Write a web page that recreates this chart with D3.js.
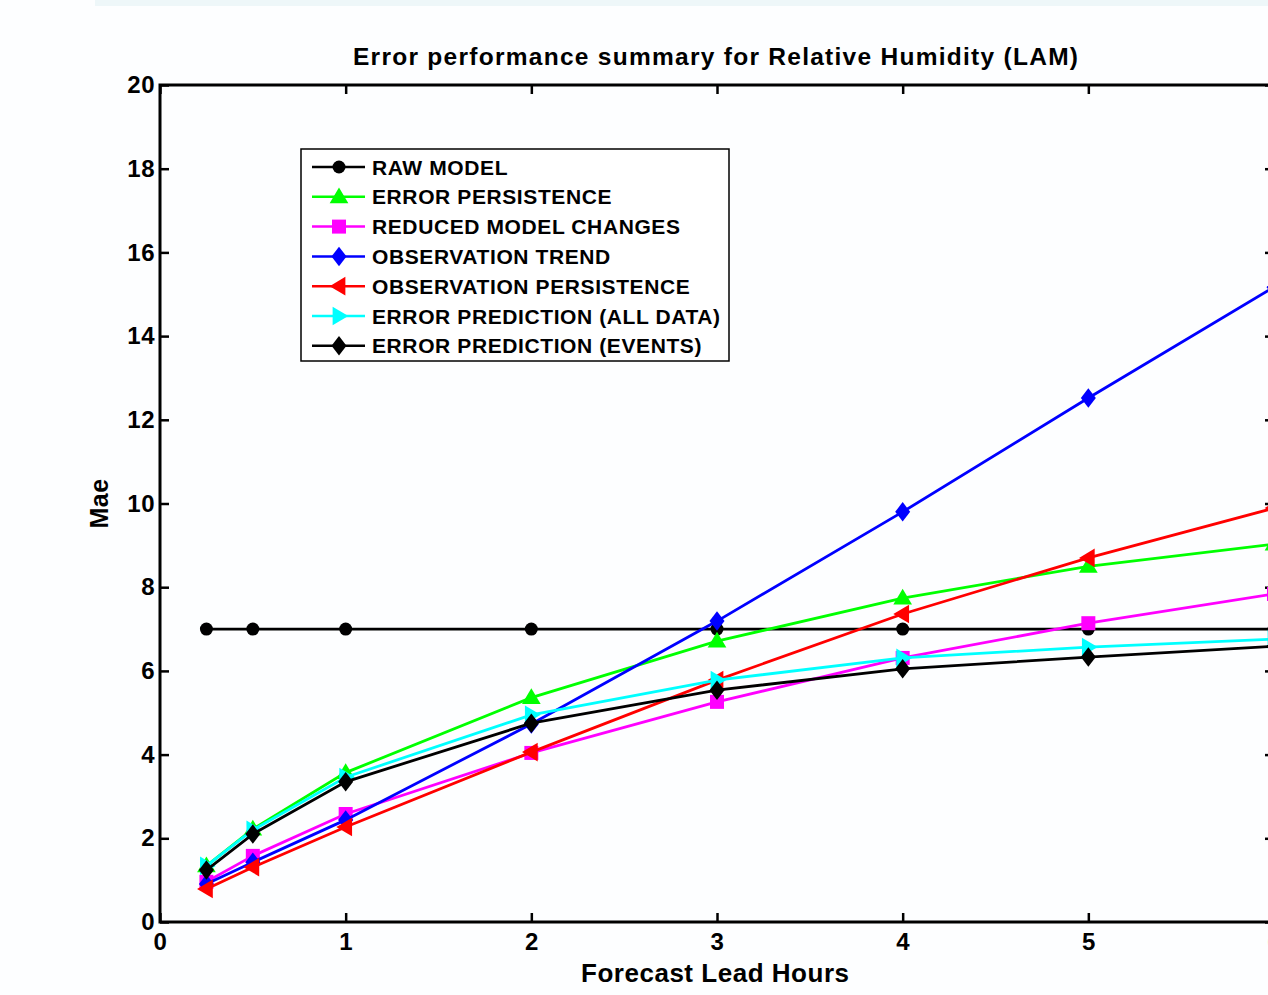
<!DOCTYPE html>
<html>
<head>
<meta charset="utf-8">
<script src="https://cdn.jsdelivr.net/npm/d3@7"></script>
<style>
  body { margin: 0; background: #fdfeff; overflow: hidden; }
  text { font-family: "Liberation Sans", Arial, sans-serif; font-weight: bold; }
</style>
</head>
<body>
<div id="chart"></div>
<script>
var width = 1268,
    height = 995;

// lead hours
var hours = [0.25, 0.5, 1, 2, 3, 4, 5, 6];

var rawModel      = [7.0, 7.0, 7.0, 7.0, 7.0, 7.0, 7.0, 7.0];
var errPersist    = [1.34, 2.22, 3.57, 5.36, 6.71, 7.74, 8.50, 9.03];
var reducedModel  = [0.96, 1.58, 2.58, 4.04, 5.26, 6.31, 7.14, 7.84];
var obsTrend      = [0.91, 1.43, 2.44, 4.73, 7.19, 9.80, 12.52, 15.17];
var obsPersist    = [0.79, 1.31, 2.27, 4.06, 5.78, 7.36, 8.70, 9.89];
var errPredAll    = [1.34, 2.20, 3.46, 4.95, 5.78, 6.31, 6.57, 6.76];
var errPredEvents = [1.24, 2.10, 3.35, 4.75, 5.54, 6.05, 6.33, 6.59];

var seriesNames = ["RAW MODEL", "ERROR PERSISTENCE", "REDUCED MODEL CHANGES",
  "OBSERVATION TREND", "OBSERVATION PERSISTENCE", "ERROR PREDICTION (ALL DATA)",
  "ERROR PREDICTION (EVENTS)"];
var seriesColors = ["#000000", "#00ff00", "#ff00ff", "#0000ff", "#ff0000", "#00ffff", "#000000"];
var seriesMarkers = ["circle", "triUp", "square", "diamond", "triLeft", "triRight", "diamond"];
var seriesValues = [rawModel, errPersist, reducedModel, obsTrend, obsPersist, errPredAll, errPredEvents];

var xTicks = [0, 1, 2, 3, 4, 5, 6];
var yTicks = [0, 2, 4, 6, 8, 10, 12, 14, 16, 18, 20];

var svg = d3.select("#chart")
  .append("svg")
  .attr("width", width)
  .attr("height", height);

// faint band at the very top
svg.append("rect")
  .attr("x", 95).attr("y", 0)
  .attr("width", width - 95).attr("height", 6)
  .attr("fill", "#eef7f9");

var pLeft = 160, pRight = 1274, pTop = 85, pBottom = 922;

var x = d3.scaleLinear().domain([0, 6]).range([pLeft, pRight]);
var y = d3.scaleLinear().domain([0, 20]).range([pBottom, pTop]);

var g = svg.append("g");

// axes (ticks inward, matlab style)
var axisStyle = function(sel) {
  sel.select(".domain").remove();
  sel.selectAll(".tick line").attr("stroke", "#000").attr("stroke-width", 2.5);
  sel.selectAll(".tick text")
    .attr("font-size", "24px")
    .attr("letter-spacing", "0.5px")
    .attr("fill", "#000");
};

g.append("g")
  .attr("transform", "translate(0," + pBottom + ")")
  .call(d3.axisBottom(x).tickValues(xTicks).tickSize(-9).tickPadding(11).tickFormat(d3.format("d")))
  .call(axisStyle);
g.append("g")
  .attr("transform", "translate(0," + pTop + ")")
  .call(d3.axisTop(x).tickValues(xTicks).tickSize(-9).tickFormat(""))
  .call(axisStyle);
g.append("g")
  .attr("transform", "translate(" + pLeft + ",0)")
  .call(d3.axisLeft(y).tickValues(yTicks).tickSize(-9).tickPadding(5).tickFormat(d3.format("d")))
  .call(axisStyle);
g.append("g")
  .attr("transform", "translate(" + pRight + ",0)")
  .call(d3.axisRight(y).tickValues(yTicks).tickSize(-9).tickFormat(""))
  .call(axisStyle);

g.append("rect")
  .attr("x", pLeft).attr("y", pTop)
  .attr("width", pRight - pLeft).attr("height", pBottom - pTop)
  .attr("fill", "none").attr("stroke", "#000").attr("stroke-width", 3);

// marker shapes
function markerPath(type, s) {
  if (type === "square") return "M" + (-s) + "," + (-s) + "H" + s + "V" + s + "H" + (-s) + "Z";
  if (type === "diamond") return "M0," + (-s * 1.3) + "L" + s + ",0L0," + (s * 1.3) + "L" + (-s) + ",0Z";
  if (type === "triUp") return "M0," + (-s * 1.1) + "L" + (s * 1.1) + "," + (s * 0.75) + "L" + (-s * 1.1) + "," + (s * 0.75) + "Z";
  if (type === "triLeft") return "M" + (-s * 1.1) + ",0L" + (s * 0.75) + "," + (-s * 1.1) + "L" + (s * 0.75) + "," + (s * 1.1) + "Z";
  if (type === "triRight") return "M" + (s * 1.1) + ",0L" + (-s * 0.75) + "," + (-s * 1.1) + "L" + (-s * 0.75) + "," + (s * 1.1) + "Z";
}

function drawMarker(sel, type, color, cx, cy) {
  if (type === "circle") {
    sel.append("circle").attr("cx", cx).attr("cy", cy).attr("r", 6.5).attr("fill", color);
  } else {
    var s = type === "square" ? 7 : (type === "diamond" ? 7.5 : 8.5);
    sel.append("path")
      .attr("d", markerPath(type, s))
      .attr("transform", "translate(" + cx + "," + cy + ")")
      .attr("fill", color);
  }
}

var line = d3.line()
  .x(function(d, i) { return x(hours[i]); })
  .y(function(d) { return y(d); });

seriesValues.forEach(function(vals, k) {
  var sg = g.append("g");
  sg.append("path")
    .attr("d", line(vals))
    .attr("fill", "none")
    .attr("stroke", seriesColors[k])
    .attr("stroke-width", 2.8);
  vals.forEach(function(v, i) {
    drawMarker(sg, seriesMarkers[k], seriesColors[k], x(hours[i]), y(v));
  });
});

// legend
var lg = svg.append("g");
lg.append("rect")
  .attr("x", 301).attr("y", 149)
  .attr("width", 428).attr("height", 212)
  .attr("fill", "#fff").attr("stroke", "#000").attr("stroke-width", 1.5);

seriesNames.forEach(function(name, k) {
  var ly = 167 + k * 29.8;
  lg.append("line")
    .attr("x1", 312).attr("x2", 365)
    .attr("y1", ly).attr("y2", ly)
    .attr("stroke", seriesColors[k]).attr("stroke-width", 2.5);
  drawMarker(lg, seriesMarkers[k], seriesColors[k], 339, ly);
  lg.append("text")
    .attr("x", 372).attr("y", ly + 7.5)
    .attr("font-size", "21px")
    .attr("letter-spacing", "0.6px")
    .text(name);
});

// titles
svg.append("text")
  .attr("x", 353).attr("y", 65)
  .attr("font-size", "24.5px")
  .attr("textLength", 725)
  .attr("lengthAdjust", "spacing")
  .text("Error performance summary for Relative Humidity (LAM)");

svg.append("text")
  .attr("x", 581).attr("y", 982)
  .attr("font-size", "26px")
  .attr("textLength", 268)
  .attr("lengthAdjust", "spacing")
  .text("Forecast Lead Hours");

svg.append("text")
  .attr("transform", "translate(108," + ((pTop + pBottom) / 2) + ") rotate(-90)")
  .attr("text-anchor", "middle")
  .attr("font-size", "25px")
  .attr("letter-spacing", "0.5px")
  .text("Mae");
</script>
</body>
</html>
